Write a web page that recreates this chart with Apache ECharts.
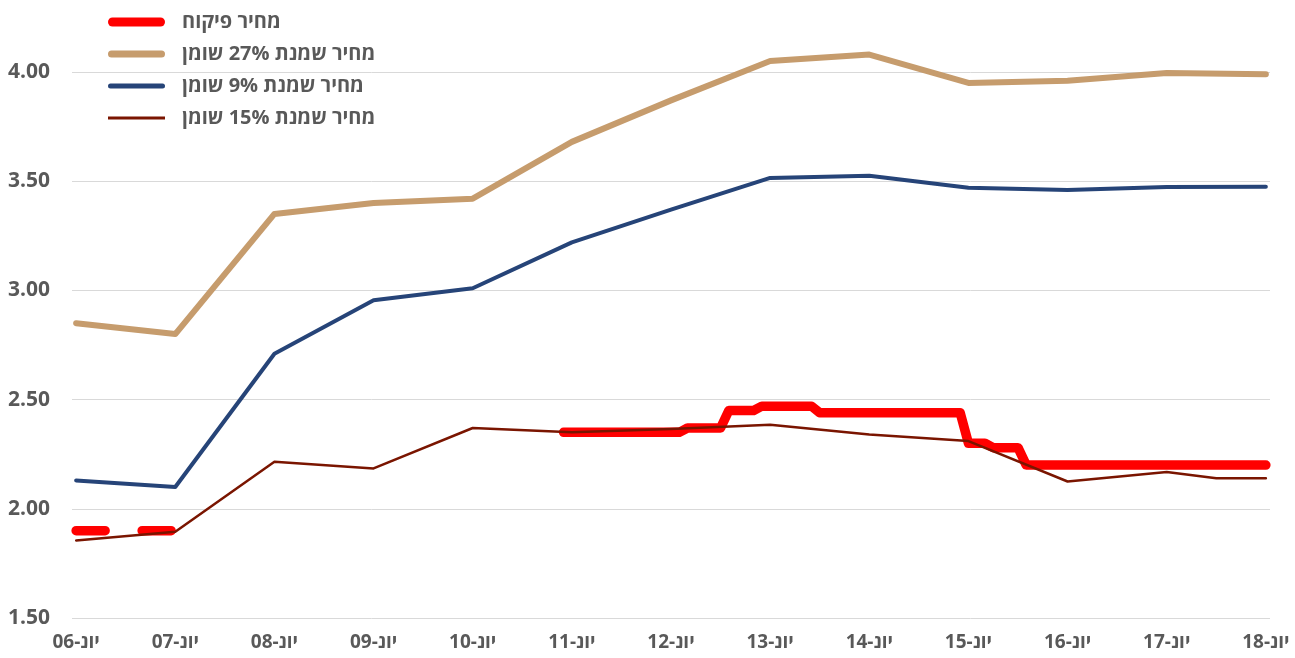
<!DOCTYPE html>
<html>
<head>
<meta charset="utf-8">
<script src="https://cdn.jsdelivr.net/npm/echarts@6/dist/echarts.min.js"></script>
<style>
  html, body { margin: 0; padding: 0; background: #fff; }
  #chart { width: 1295px; height: 658px; }
</style>
</head>
<body>
<div id="chart"></div>
<script>
// x labels, one per June (month index 0 = יונ-06, every 12 months)
var tickLabels = ['יונ-06', 'יונ-07', 'יונ-08', 'יונ-09', 'יונ-10', 'יונ-11', 'יונ-12',
  'יונ-13', 'יונ-14', 'יונ-15', 'יונ-16', 'יונ-17', 'יונ-18'];

// [month index, price]
var controlledOld = [[0, 1.90], [12, 1.90]]; // dashed part
var controlled = [[59, 2.35], [73, 2.35], [74, 2.37], [78, 2.37], [79, 2.45], [82, 2.45],
  [83, 2.47], [89, 2.47], [90, 2.44], [107, 2.44], [108, 2.30], [110, 2.30], [111, 2.28],
  [114, 2.28], [115, 2.20], [144, 2.20]];
var cream27 = [[0, 2.85], [12, 2.80], [24, 3.35], [36, 3.40], [48, 3.42], [60, 3.68], [72, 3.87],
  [84, 4.05], [96, 4.08], [108, 3.95], [120, 3.96], [132, 3.995], [144, 3.99]];
var cream9 = [[0, 2.13], [12, 2.10], [24, 2.71], [36, 2.955], [48, 3.01], [60, 3.22], [72, 3.37],
  [84, 3.515], [96, 3.525], [108, 3.47], [120, 3.46], [132, 3.473], [144, 3.475]];
var cream15 = [[0, 1.855], [12, 1.895], [24, 2.215], [36, 2.185], [48, 2.37], [60, 2.35], [72, 2.365],
  [84, 2.385], [96, 2.34], [108, 2.31], [120, 2.125], [132, 2.168], [138, 2.14], [144, 2.14]];

var names = ['מחיר פיקוח', 'מחיר שמנת 27% שומן', 'מחיר שמנת 9% שומן', 'מחיר שמנת 15% שומן'];

var months = [];
for (var i = 0; i <= 144; i++) {
  months.push('m' + i);
}

var font = 'Open Sans, Noto Sans, DejaVu Sans, sans-serif';

var chart = echarts.init(document.getElementById('chart'));
chart.setOption({
  backgroundColor: '#fff',
  animation: false,
  grid: {
    left: 72,
    right: 25,
    top: 72,
    bottom: 40
  },
  legend: {
    orient: 'vertical',
    left: 103,
    top: 7,
    itemWidth: 57,
    itemHeight: 14,
    itemGap: 12,
    selectedMode: false,
    textStyle: {
      color: '#595959',
      fontSize: 20,
      fontWeight: 'bold',
      fontFamily: font,
      padding: [0, 0, 0, 12]
    },
    data: [
      { name: names[0], icon: 'path://M4.5,0H52.5A4.5,4.5,0,0,1,52.5,9H4.5A4.5,4.5,0,0,1,4.5,0Z' },
      { name: names[1], icon: 'path://M3.5,0H53.5A3.5,3.5,0,0,1,53.5,7H3.5A3.5,3.5,0,0,1,3.5,0Z' },
      { name: names[2], icon: 'path://M2.5,0H54.5A2.5,2.5,0,0,1,54.5,5H2.5A2.5,2.5,0,0,1,2.5,0Z' },
      { name: names[3], icon: 'path://M1,0H56V3H1Z' }
    ]
  },
  xAxis: {
    type: 'category',
    data: months,
    boundaryGap: true,
    axisLine: { show: false },
    axisTick: { show: false },
    axisLabel: {
      interval: 11,
      margin: 15,
      color: '#595959',
      fontSize: 19,
      fontWeight: 'bold',
      fontFamily: font,
      formatter: function (v, idx) {
        return idx % 12 === 0 ? tickLabels[idx / 12] : '';
      }
    }
  },
  yAxis: {
    type: 'value',
    min: 1.5,
    max: 4.0,
    interval: 0.5,
    axisLine: { show: false },
    axisTick: { show: false },
    splitLine: { lineStyle: { color: '#d9d9d9', width: 1 } },
    axisLabel: {
      margin: 22,
      color: '#595959',
      fontSize: 21,
      fontWeight: 'bold',
      fontFamily: font,
      formatter: function (v) { return v.toFixed(2); }
    }
  },
  series: [
    {
      name: names[1],
      type: 'line',
      data: cream27,
      symbol: 'none',
      clip: false,
      color: '#c69c6d',
      lineStyle: { width: 6, color: '#c69c6d', join: 'round', cap: 'round' }
    },
    {
      name: names[2],
      type: 'line',
      data: cream9,
      symbol: 'none',
      clip: false,
      color: '#264478',
      lineStyle: { width: 4, color: '#264478', join: 'round', cap: 'round' }
    },
    {
      name: names[0],
      type: 'line',
      data: controlledOld,
      symbol: 'none',
      clip: false,
      color: '#ff0000',
      lineStyle: { width: 9.5, color: '#ff0000', type: [29, 37], cap: 'round' }
    },
    {
      name: names[0],
      type: 'line',
      data: controlled,
      symbol: 'none',
      clip: false,
      color: '#ff0000',
      lineStyle: { width: 9.5, color: '#ff0000', join: 'round', cap: 'round' }
    },
    {
      name: names[3],
      type: 'line',
      data: cream15,
      symbol: 'none',
      clip: false,
      z: 5,
      color: '#7a1500',
      lineStyle: { width: 2.5, color: '#7a1500', join: 'round', cap: 'round' }
    }
  ]
});
</script>
</body>
</html>
